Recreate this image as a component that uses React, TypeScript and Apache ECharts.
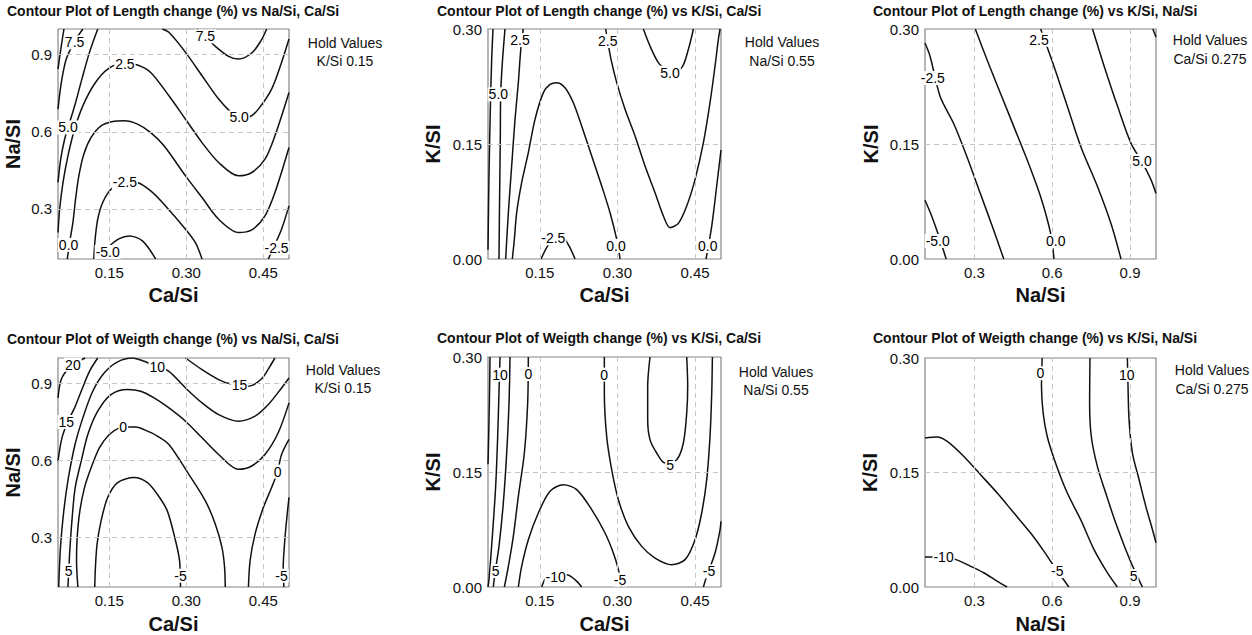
import React, { useEffect, useRef } from "react";
import * as echarts from "echarts";

type Pt = [number, number];
type Tag = [string, number, number];

const FONT = '"Liberation Sans", Arial, Helvetica, sans-serif';

// ---- tick values -------------------------------------------------------
const caSiTicks = [0.15, 0.3, 0.45];
const naSiTicks = [0.3, 0.6, 0.9];
const kSiTicks = [0.0, 0.15, 0.3];

// ---- Length change vs Na/Si, Ca/Si (K/Si = 0.15) -----------------------
const lenNaCaLines: Pt[][] = [
  [[0.05, 0.844], [0.0555, 0.922], [0.0616, 1.0]],
  [[0.0984, 1.0], [0.0823, 0.951], [0.0661, 0.883], [0.0565, 0.792], [0.05, 0.688]],
  [[0.1274, 1.0], [0.1113, 0.909], [0.0965, 0.805], [0.0835, 0.708], [0.0726, 0.636], [0.0629, 0.571], [0.0552, 0.493], [0.05, 0.403]],
  [[0.05, 0.208], [0.0532, 0.2987], [0.0597, 0.4026], [0.0694, 0.5065], [0.0823, 0.61], [0.0984, 0.701], [0.121, 0.786], [0.1468, 0.844], [0.179, 0.8675], [0.2048, 0.86], [0.2306, 0.831], [0.2661, 0.74], [0.2984, 0.649], [0.3306, 0.558], [0.3629, 0.4805], [0.4016, 0.4286], [0.4274, 0.4416], [0.4532, 0.4935], [0.4726, 0.5844], [0.5, 0.753]],
  [[0.0681, 0.105], [0.0726, 0.1688], [0.079, 0.2468], [0.0842, 0.3377], [0.0906, 0.4286], [0.1003, 0.513], [0.1145, 0.578], [0.1339, 0.623], [0.1565, 0.64], [0.179, 0.643], [0.2048, 0.63], [0.2306, 0.597], [0.2565, 0.5455], [0.2984, 0.4286], [0.3306, 0.3442], [0.3629, 0.2597], [0.4016, 0.2078], [0.4274, 0.2182], [0.4532, 0.2727], [0.4726, 0.3636], [0.5, 0.539]],
  [[0.1197, 0.105], [0.1223, 0.1818], [0.1274, 0.2597], [0.1371, 0.3247], [0.1532, 0.3766], [0.1803, 0.408], [0.2048, 0.4026], [0.2306, 0.3701], [0.2565, 0.3182], [0.2984, 0.2208], [0.3177, 0.1688], [0.3306, 0.105]],
  [[0.1274, 0.105], [0.1468, 0.1494], [0.1694, 0.1844], [0.1887, 0.1948], [0.2145, 0.1753], [0.2403, 0.105]],
  [[0.321, 1.0], [0.3371, 0.9714], [0.3565, 0.9325], [0.3823, 0.8935], [0.4016, 0.883], [0.4274, 0.9065], [0.4455, 0.9545], [0.4565, 1.0]],
  [[0.2532, 1.0], [0.2661, 0.987], [0.2984, 0.909], [0.3306, 0.818], [0.3629, 0.7273], [0.3887, 0.6727], [0.4029, 0.6558], [0.4242, 0.6597], [0.4403, 0.6883], [0.4661, 0.7662], [0.4855, 0.8701], [0.5, 0.961]],
  [[0.4597, 0.105], [0.4713, 0.1558], [0.4855, 0.2208], [0.5, 0.3117]],
];
const lenNaCaTags: Tag[] = [
  ["7.5", 0.0823, 0.948], ["5.0", 0.0694, 0.617], ["2.5", 0.1803, 0.8636],
  ["0.0", 0.0706, 0.16], ["-2.5", 0.1803, 0.405], ["-5.0", 0.1468, 0.1325],
  ["7.5", 0.3371, 0.9714], ["5.0", 0.4029, 0.6558], ["-2.5", 0.4758, 0.149],
];

// ---- Length change vs K/Si, Ca/Si (Na/Si = 0.55) -----------------------
const lenKCaLines: Pt[][] = [
  [[0.05, 0.012], [0.0519, 0.1083], [0.0545, 0.1952], [0.0571, 0.2604], [0.0597, 0.3]],
  [[0.0712, 0.0], [0.0725, 0.0865], [0.0738, 0.1604], [0.0745, 0.2148], [0.0777, 0.2561], [0.0828, 0.3]],
  [[0.0841, 0.0], [0.0893, 0.0604], [0.0957, 0.1213], [0.1022, 0.1822], [0.1086, 0.23], [0.1118, 0.2604], [0.115, 0.2857], [0.1183, 0.3]],
  [[0.097, 0.0], [0.1009, 0.0257], [0.1054, 0.0604], [0.115, 0.0996], [0.1279, 0.1387], [0.1408, 0.1822], [0.1569, 0.217], [0.1698, 0.2278], [0.1827, 0.23], [0.1987, 0.2235], [0.2148, 0.2039], [0.2309, 0.1735], [0.2503, 0.1343], [0.2696, 0.0952], [0.2857, 0.0604], [0.2986, 0.0257], [0.305, 0.0]],
  [[0.2773, 0.3], [0.2812, 0.2843], [0.2876, 0.2604], [0.2986, 0.23], [0.3147, 0.1952], [0.334, 0.1604], [0.3533, 0.1213], [0.3726, 0.0865], [0.3887, 0.0561], [0.4016, 0.0409], [0.4177, 0.0465], [0.4338, 0.0691], [0.4499, 0.1039], [0.466, 0.1517], [0.4788, 0.2039], [0.4885, 0.2517], [0.4949, 0.2865], [0.4982, 0.3]],
  [[0.3501, 0.3], [0.3629, 0.2778], [0.379, 0.2561], [0.3951, 0.2452], [0.4016, 0.243], [0.4241, 0.2496], [0.437, 0.2735], [0.4467, 0.3]],
  [[0.4711, 0.0], [0.4821, 0.043], [0.4917, 0.0952], [0.5, 0.1422]],
  [[0.1524, 0.0], [0.1633, 0.0148], [0.1794, 0.03], [0.1936, 0.0291], [0.2065, 0.017], [0.2181, 0.0]],
];
const lenKCaTags: Tag[] = [
  ["2.5", 0.1118, 0.2857], ["5.0", 0.07, 0.2148], ["2.5", 0.2812, 0.2843],
  ["5.0", 0.4016, 0.243], ["-2.5", 0.1762, 0.027], ["0.0", 0.2973, 0.017],
  ["0.0", 0.4743, 0.017],
];

// ---- Length change vs K/Si, Na/Si (Ca/Si = 0.275) ----------------------
const lenKNaLines: Pt[][] = [
  [[0.11, 0.0767], [0.132, 0.0593], [0.1555, 0.0375], [0.175, 0.0178], [0.1916, 0.0]],
  [[0.11, 0.2817], [0.1297, 0.2642], [0.1684, 0.2119], [0.22, 0.177], [0.2716, 0.1334], [0.3232, 0.0854], [0.3748, 0.0375], [0.4135, 0.0]],
  [[0.3039, 0.3], [0.349, 0.2599], [0.4006, 0.2163], [0.4523, 0.1727], [0.5039, 0.129], [0.5555, 0.0811], [0.5942, 0.0331], [0.6071, 0.0]],
  [[0.5555, 0.3], [0.6071, 0.2512], [0.6587, 0.1988], [0.7103, 0.1465], [0.7748, 0.0942], [0.8265, 0.0462], [0.8652, 0.0]],
  [[0.7555, 0.3], [0.8006, 0.2512], [0.8523, 0.1988], [0.9039, 0.1508], [0.949, 0.1247], [0.9813, 0.1029], [1.0, 0.0854]],
  [[0.9877, 0.3], [1.0, 0.2895]],
];
const lenKNaTags: Tag[] = [
  ["2.5", 0.549, 0.286], ["-2.5", 0.14, 0.236], ["5.0", 0.946, 0.128],
  ["0.0", 0.6135, 0.0235], ["-5.0", 0.159, 0.0235],
];

// ---- Weigth change vs Na/Si, Ca/Si (K/Si = 0.15) -----------------------
const wNaCaLines: Pt[][] = [
  [[0.05, 0.844], [0.0574, 0.922], [0.079, 0.974], [0.1029, 1.0]],
  [[0.1274, 1.0], [0.1113, 0.948], [0.0952, 0.87], [0.0823, 0.805], [0.0694, 0.753], [0.0577, 0.688], [0.05, 0.597]],
  [[0.0513, 0.105], [0.0548, 0.26], [0.0613, 0.403], [0.0703, 0.532], [0.0832, 0.662], [0.0984, 0.766], [0.1177, 0.87], [0.1403, 0.942], [0.1661, 0.985], [0.1952, 1.0], [0.2177, 0.987], [0.2435, 0.965], [0.2661, 0.948], [0.2984, 0.883], [0.3306, 0.8247], [0.3629, 0.779], [0.4016, 0.753], [0.4339, 0.7727], [0.4597, 0.818], [0.4855, 0.883], [0.5, 0.922]],
  [[0.0694, 0.105], [0.0726, 0.2338], [0.0771, 0.3636], [0.0835, 0.4935], [0.0952, 0.597], [0.1081, 0.701], [0.1274, 0.792], [0.1532, 0.857], [0.1855, 0.8766], [0.2113, 0.87], [0.2371, 0.844], [0.2661, 0.805], [0.2984, 0.753], [0.3306, 0.688], [0.3629, 0.623], [0.4016, 0.5649], [0.4274, 0.578], [0.4532, 0.623], [0.479, 0.708], [0.5, 0.8247]],
  [[0.0887, 0.105], [0.0861, 0.2078], [0.0874, 0.3], [0.0926, 0.4026], [0.1016, 0.4935], [0.1145, 0.571], [0.1306, 0.649], [0.15, 0.701], [0.1694, 0.727], [0.1823, 0.73], [0.2016, 0.73], [0.2177, 0.72], [0.2435, 0.695], [0.2661, 0.662], [0.3048, 0.5455], [0.3371, 0.4416], [0.3565, 0.3506], [0.3694, 0.2597], [0.3745, 0.1818], [0.3758, 0.105]],
  [[0.1216, 0.105], [0.1229, 0.1818], [0.1261, 0.2727], [0.1339, 0.3636], [0.1468, 0.4545], [0.1661, 0.513], [0.1984, 0.5325], [0.2242, 0.513], [0.2435, 0.4675], [0.2629, 0.4026], [0.279, 0.2857], [0.2868, 0.2078], [0.2887, 0.105]],
  [[0.2984, 1.0], [0.3306, 0.9545], [0.3629, 0.9156], [0.3855, 0.899], [0.421, 0.8896], [0.4468, 0.919], [0.4629, 0.9675], [0.4726, 1.0]],
  [[0.421, 0.105], [0.4242, 0.2078], [0.4339, 0.3117], [0.45, 0.4156], [0.4661, 0.4935], [0.4777, 0.5558], [0.4855, 0.623], [0.5, 0.682]],
  [[0.49, 0.105], [0.4887, 0.18], [0.4919, 0.29], [0.4965, 0.39], [0.5, 0.455]],
];
const wNaCaTags: Tag[] = [
  ["20", 0.079, 0.974], ["15", 0.0661, 0.75], ["10", 0.2435, 0.965],
  ["5", 0.0705, 0.1688], ["0", 0.1771, 0.73], ["-5", 0.2887, 0.149],
  ["0", 0.4777, 0.556], ["-5", 0.4855, 0.149], ["15", 0.4035, 0.893],
];

// ---- Weigth change vs K/Si, Ca/Si (Na/Si = 0.55) -----------------------
const wKCaLines: Pt[][] = [
  [[0.0539, 0.3], [0.0526, 0.24], [0.0506, 0.1748], [0.05, 0.16]],
  [[0.0732, 0.3], [0.0712, 0.253], [0.0687, 0.1965], [0.0648, 0.1313], [0.0584, 0.0661], [0.0519, 0.0096], [0.05, 0.0]],
  [[0.0925, 0.3], [0.0906, 0.24], [0.0861, 0.1748], [0.0796, 0.1096], [0.0712, 0.053], [0.0635, 0.0183], [0.0603, 0.0]],
  [[0.1279, 0.3], [0.1266, 0.24], [0.1202, 0.1748], [0.1086, 0.1183], [0.0989, 0.0661], [0.0893, 0.027], [0.0816, 0.0]],
  [[0.1086, 0.0], [0.115, 0.027], [0.1279, 0.0617], [0.1472, 0.0965], [0.1698, 0.1248], [0.1955, 0.1335], [0.2213, 0.127], [0.2503, 0.1009], [0.276, 0.0704], [0.2921, 0.0443], [0.3018, 0.0226], [0.3082, 0.0]],
  [[0.1537, 0.0], [0.1633, 0.013], [0.1807, 0.0148], [0.202, 0.0161], [0.2181, 0.0096], [0.2309, 0.0]],
  [[0.2747, 0.3], [0.2747, 0.253], [0.2792, 0.1965], [0.2889, 0.153], [0.3018, 0.1139], [0.3211, 0.0791], [0.3468, 0.053], [0.3726, 0.0378], [0.4048, 0.0291], [0.4306, 0.0357], [0.4499, 0.0617], [0.4627, 0.0965], [0.4724, 0.14], [0.4788, 0.1965], [0.4821, 0.253], [0.4834, 0.3]],
  [[0.3629, 0.3], [0.3584, 0.2617], [0.3584, 0.2183], [0.3629, 0.1922], [0.3758, 0.1748], [0.3919, 0.1617], [0.4145, 0.1661], [0.4273, 0.1878], [0.4338, 0.227], [0.4357, 0.2617], [0.4338, 0.3]],
  [[0.466, 0.0], [0.4724, 0.0139], [0.4885, 0.0443], [0.4982, 0.0748], [0.5, 0.0857]],
];
const wKCaTags: Tag[] = [
  ["10", 0.0732, 0.277], ["0", 0.1279, 0.2778], ["0", 0.2741, 0.277],
  ["5", 0.0648, 0.0209], ["-10", 0.1807, 0.013], ["-5", 0.305, 0.0096],
  ["5", 0.4016, 0.1596], ["-5", 0.4769, 0.0204],
];

// ---- Weigth change vs K/Si, Na/Si (Ca/Si = 0.275) ----------------------
const wKNaLines: Pt[][] = [
  [[0.11, 0.0392], [0.1687, 0.0392], [0.2266, 0.0362], [0.2846, 0.0274], [0.336, 0.0187], [0.3876, 0.0078], [0.4262, 0.0]],
  [[0.11, 0.1953], [0.1558, 0.1966], [0.1944, 0.191], [0.2588, 0.1713], [0.3232, 0.1474], [0.3876, 0.1234], [0.4519, 0.0972], [0.5163, 0.071], [0.5678, 0.047], [0.6193, 0.0209], [0.6386, 0.0122], [0.6644, 0.0]],
  [[0.5614, 0.3], [0.5588, 0.2629], [0.5652, 0.228], [0.5807, 0.1975], [0.6129, 0.1626], [0.6579, 0.1234], [0.7094, 0.0885], [0.7609, 0.0492], [0.8124, 0.0187], [0.851, 0.0]],
  [[0.7455, 0.3], [0.7442, 0.2411], [0.7506, 0.1975], [0.7738, 0.1583], [0.806, 0.1234], [0.8446, 0.0841], [0.8832, 0.0492], [0.9154, 0.0231], [0.9476, 0.0]],
  [[0.8897, 0.3], [0.8922, 0.2629], [0.8961, 0.2193], [0.909, 0.1757], [0.9347, 0.1408], [0.9605, 0.1059], [0.9862, 0.0754], [1.0, 0.058]],
];
const wKNaTags: Tag[] = [
  ["0", 0.555, 0.28], ["10", 0.887, 0.278], ["-10", 0.1815, 0.0396],
  ["-5", 0.6193, 0.0209], ["5", 0.9141, 0.0143],
];

// ---- panel layout --------------------------------------------------------
type Panel = {
  title: string; hold: [string, string];
  xName: string; yName: string;
  xRange: [number, number]; yRange: [number, number];
  xTicks: number[]; yTicks: number[]; xDec: number; yDec: number;
  lines: Pt[][]; tags: Tag[];
  box: [number, number, number, number];
  titleAt: [number, number]; holdAt: [number, number, number];
  xGap: number; yGap: number;
};

const panels: Panel[] = [
  {
    title: "Contour Plot of Length change (%) vs Na/Si, Ca/Si", hold: ["Hold Values", "K/Si 0.15"],
    xName: "Ca/Si", yName: "Na/SI", xRange: [0.05, 0.5], yRange: [0.105, 1.0],
    xTicks: caSiTicks, yTicks: naSiTicks, xDec: 2, yDec: 1, lines: lenNaCaLines, tags: lenNaCaTags,
    box: [58, 29, 231, 230], titleAt: [7, 11], holdAt: [345, 43, 61], xGap: 26, yGap: 35,
  },
  {
    title: "Contour Plot of Length change (%) vs K/Si, Ca/Si", hold: ["Hold Values", "Na/Si 0.55"],
    xName: "Ca/Si", yName: "K/SI", xRange: [0.05, 0.5], yRange: [0, 0.3],
    xTicks: caSiTicks, yTicks: kSiTicks, xDec: 2, yDec: 2, lines: lenKCaLines, tags: lenKCaTags,
    box: [488, 29, 233, 230], titleAt: [437, 11], holdAt: [782, 42, 61], xGap: 26, yGap: 45,
  },
  {
    title: "Contour Plot of Length change (%) vs K/Si, Na/Si", hold: ["Hold Values", "Ca/Si 0.275"],
    xName: "Na/Si", yName: "K/SI", xRange: [0.11, 1.0], yRange: [0, 0.3],
    xTicks: naSiTicks, yTicks: kSiTicks, xDec: 1, yDec: 2, lines: lenKNaLines, tags: lenKNaTags,
    box: [925, 29, 231, 230], titleAt: [873, 11], holdAt: [1210, 40, 59], xGap: 26, yGap: 44,
  },
  {
    title: "Contour Plot of Weigth change (%) vs Na/Si, Ca/Si", hold: ["Hold Values", "K/Si 0.15"],
    xName: "Ca/Si", yName: "Na/SI", xRange: [0.05, 0.5], yRange: [0.105, 1.0],
    xTicks: caSiTicks, yTicks: naSiTicks, xDec: 2, yDec: 1, lines: wNaCaLines, tags: wNaCaTags,
    box: [58, 358, 231, 230], titleAt: [7, 339], holdAt: [343, 370, 388], xGap: 27, yGap: 35,
  },
  {
    title: "Contour Plot of Weigth change (%) vs K/Si, Ca/Si", hold: ["Hold Values", "Na/Si 0.55"],
    xName: "Ca/Si", yName: "K/SI", xRange: [0.05, 0.5], yRange: [0, 0.3],
    xTicks: caSiTicks, yTicks: kSiTicks, xDec: 2, yDec: 2, lines: wKCaLines, tags: wKCaTags,
    box: [488, 357, 233, 231], titleAt: [437, 338], holdAt: [776, 372, 390], xGap: 27, yGap: 45,
  },
  {
    title: "Contour Plot of Weigth change (%) vs K/Si, Na/Si", hold: ["Hold Values", "Ca/Si 0.275"],
    xName: "Na/Si", yName: "K/SI", xRange: [0.11, 1.0], yRange: [0, 0.3],
    xTicks: naSiTicks, yTicks: kSiTicks, xDec: 1, yDec: 2, lines: wKNaLines, tags: wKNaTags,
    box: [925, 358, 231, 230], titleAt: [873, 338], holdAt: [1212, 370, 389], xGap: 27, yGap: 45,
  },
];

const INK = "#111111";

function buildOption() {
  const grid: any[] = [];
  const xAxis: any[] = [];
  const yAxis: any[] = [];
  const series: any[] = [];
  const graphic: any[] = [];

  panels.forEach((p, i) => {
    const [left, top, width, height] = p.box;
    grid.push({ left, top, width, height, show: true, borderColor: "#858585", borderWidth: 1.2, backgroundColor: "#fff" });

    const axisLabel = (ticks: number[], dec: number) => ({
      customValues: ticks,
      formatter: (v: number) => v.toFixed(dec),
      fontSize: 15, color: INK, fontFamily: FONT, margin: 6,
    });

    xAxis.push({
      gridIndex: i, type: "value", min: p.xRange[0], max: p.xRange[1],
      name: p.xName, nameLocation: "middle", nameGap: p.xGap,
      nameTextStyle: { fontSize: 20, fontWeight: "bold", color: INK, fontFamily: FONT },
      axisLine: { show: false }, axisTick: { show: false }, splitLine: { show: false },
      axisLabel: axisLabel(p.xTicks, p.xDec),
    });
    yAxis.push({
      gridIndex: i, type: "value", min: p.yRange[0], max: p.yRange[1],
      name: p.yName, nameLocation: "middle", nameGap: p.yGap,
      nameTextStyle: { fontSize: 20, fontWeight: "bold", color: INK, fontFamily: FONT },
      axisLine: { show: false }, axisTick: { show: false }, splitLine: { show: false },
      axisLabel: axisLabel(p.yTicks, p.yDec),
    });

    const inside = (v: number, r: [number, number]) => v > r[0] + 1e-6 && v < r[1] - 1e-6;
    // dashed reference grid
    series.push({
      type: "line", xAxisIndex: i, yAxisIndex: i, data: [[p.xRange[0], p.yRange[0]]],
      symbol: "none", lineStyle: { opacity: 0 }, silent: true, z: 1,
      markLine: {
        silent: true, symbol: ["none", "none"], label: { show: false },
        lineStyle: { color: "#c6c6c6", type: [5, 4], width: 1 },
        emphasis: { disabled: true },
        data: [
          ...p.xTicks.filter((v) => inside(v, p.xRange)).map((v) => ({ xAxis: v })),
          ...p.yTicks.filter((v) => inside(v, p.yRange)).map((v) => ({ yAxis: v })),
        ],
      },
    });

    // contour lines
    p.lines.forEach((pts) => {
      series.push({
        type: "line", xAxisIndex: i, yAxisIndex: i, data: pts,
        symbol: "none", showSymbol: false, smooth: 0.3, clip: true, silent: true, z: 2,
        lineStyle: { color: INK, width: 1.5 },
      });
    });

    // contour level labels
    series.push({
      type: "scatter", xAxisIndex: i, yAxisIndex: i, silent: true, z: 5,
      symbolSize: 0.001, itemStyle: { color: "#fff", opacity: 1 },
      data: p.tags.map(([t, x, y]) => ({ name: t, value: [x, y] })),
      label: {
        show: true, position: "inside", formatter: "{b}",
        fontSize: 14, color: "#000", fontFamily: FONT, opacity: 1,
        textBorderWidth: 0, textBorderColor: "transparent",
        backgroundColor: "#fff", padding: [0, 1], lineHeight: 14,
      },
    });

    // panel title
    graphic.push({
      type: "text", x: p.titleAt[0], y: p.titleAt[1],
      style: {
        text: p.title, font: `bold 14px ${FONT}`, fill: INK,
        align: "left", verticalAlign: "middle", textAlign: "left", textVerticalAlign: "middle",
      },
    });
    // hold values
    p.hold.forEach((t, k) => {
      graphic.push({
        type: "text", x: p.holdAt[0], y: p.holdAt[1 + k],
        style: {
          text: t, font: `14px ${FONT}`, fill: INK,
          align: "center", verticalAlign: "middle", textAlign: "center", textVerticalAlign: "middle",
        },
      });
    });
  });

  return { animation: false, backgroundColor: "#fff", grid, xAxis, yAxis, series, graphic };
}

export default function App() {
  const ref = useRef<HTMLDivElement>(null);
  useEffect(() => {
    if (!ref.current) return;
    const chart = echarts.init(ref.current, undefined, { renderer: "svg" });
    chart.setOption(buildOption() as any);
    return () => chart.dispose();
  }, []);
  return (
    <div
      ref={ref}
      style={{ position: "fixed", left: 0, top: 0, width: 1252, height: 635, background: "#fff" }}
    />
  );
}
